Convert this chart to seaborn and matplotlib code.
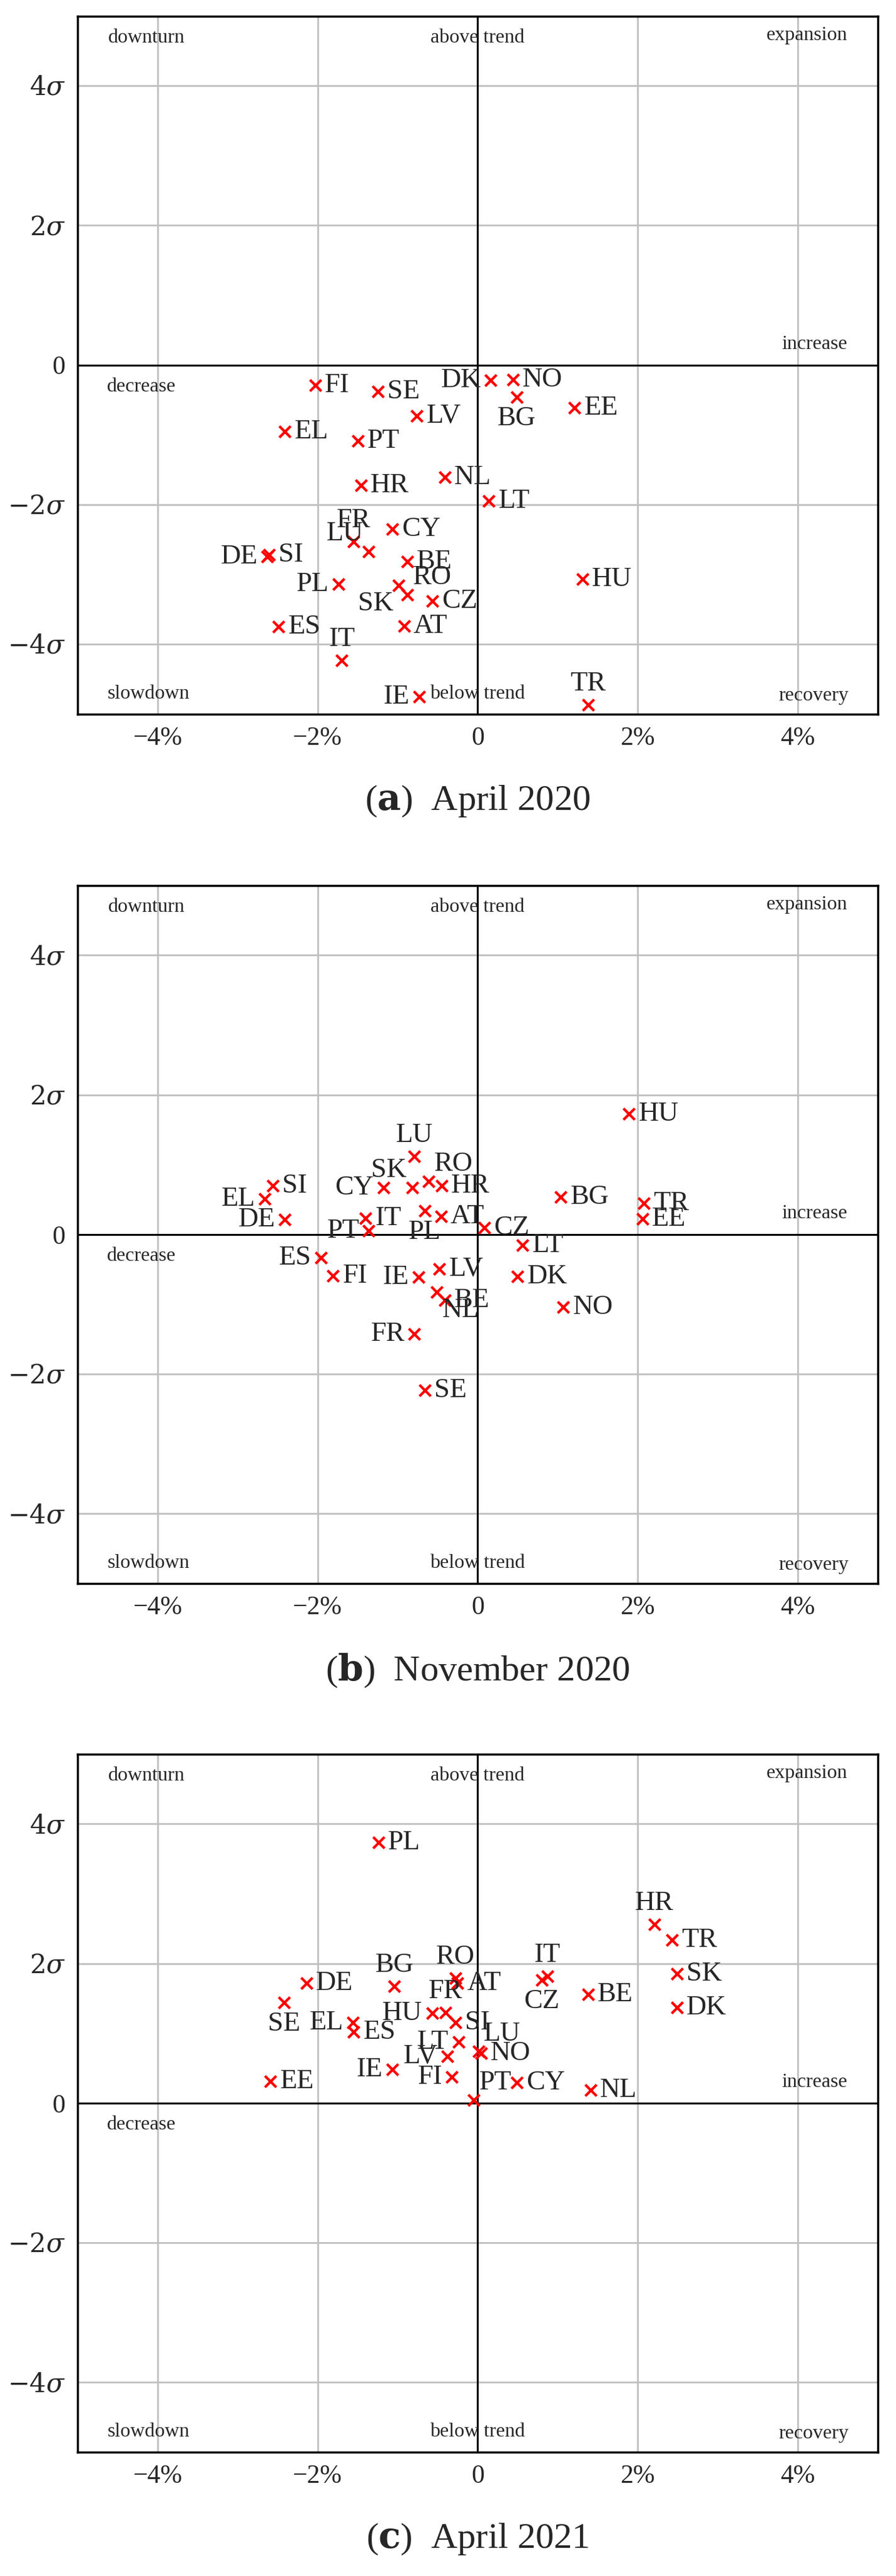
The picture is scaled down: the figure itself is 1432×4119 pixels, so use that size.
import numpy as np
import pandas as pd
import seaborn as sns
import matplotlib
matplotlib.use('Agg')
import matplotlib.pyplot as plt

# Panel (a) April 2020
a_cc = ['FI', 'SE', 'DK', 'NO', 'BG', 'EE', 'LV', 'EL', 'PT', 'HR', 'NL', 'LT', 'CY', 'FR',
        'LU', 'DE', 'SI', 'BE', 'HU', 'PL', 'SK', 'RO', 'CZ', 'AT', 'ES', 'IT', 'IE', 'TR']
a_x = [-2.03, -1.25, 0.16, 0.44, 0.49, 1.21, -0.76, -2.41, -1.50, -1.46, -0.41, 0.14, -1.07, -1.55,
       -1.36, -2.63, -2.61, -0.88, 1.31, -1.74, -0.99, -0.88, -0.57, -0.92, -2.49, -1.70, -0.73, 1.38]
a_y = [-0.29, -0.38, -0.22, -0.21, -0.46, -0.61, -0.73, -0.95, -1.09, -1.72, -1.61, -1.95, -2.35, -2.53,
       -2.67, -2.74, -2.72, -2.82, -3.07, -3.14, -3.16, -3.29, -3.38, -3.74, -3.75, -4.23, -4.75, -4.87]
a_pos = ['r', 'r', 'l', 'r', 'b', 'r', 'r', 'r', 'r', 'r', 'r', 'r', 'r', 'a',
         'al', 'l', 'r', 'r', 'r', 'l', 'bl', 'ar', 'r', 'r', 'r', 'a', 'l', 'a']

# Panel (b) November 2020
b_cc = ['HU', 'LU', 'RO', 'HR', 'SK', 'CY', 'SI', 'EL', 'DE', 'BG', 'TR', 'EE', 'PL', 'AT',
        'IT', 'PT', 'CZ', 'LT', 'ES', 'FI', 'IE', 'LV', 'BE', 'NL', 'FR', 'SE', 'DK', 'NO']
b_x = [1.89, -0.79, -0.61, -0.45, -0.82, -1.18, -2.56, -2.66, -2.41, 1.04, 2.08, 2.06, -0.66, -0.46,
       -1.40, -1.36, 0.08, 0.56, -1.96, -1.81, -0.74, -0.48, -0.41, -0.51, -0.79, -0.66, 0.50, 1.07]
b_y = [1.73, 1.12, 0.76, 0.70, 0.67, 0.67, 0.70, 0.51, 0.21, 0.54, 0.45, 0.22, 0.34, 0.26,
       0.23, 0.05, 0.10, -0.15, -0.33, -0.59, -0.61, -0.49, -0.94, -0.83, -1.43, -2.23, -0.60, -1.04]
b_pos = ['r', 'a', 'ar', 'r', 'al', 'l', 'r', 'l', 'l', 'r', 'r', 'r', 'b', 'r',
         'r', 'l', 'r', 'r', 'l', 'r', 'l', 'r', 'r', 'br', 'l', 'r', 'r', 'r']

# Panel (c) April 2021
c_cc = ['PL', 'HR', 'TR', 'SK', 'DK', 'IT', 'CZ', 'BE', 'RO', 'AT', 'BG', 'DE', 'SE', 'EL',
        'ES', 'HU', 'FR', 'SI', 'LT', 'LU', 'NO', 'LV', 'IE', 'EE', 'FI', 'PT', 'CY', 'NL']
c_x = [-1.24, 2.21, 2.43, 2.49, 2.49, 0.87, 0.80, 1.38, -0.28, -0.25, -1.04, -2.14, -2.42, -1.56,
       -1.55, -0.57, -0.40, -0.28, -0.24, 0.01, 0.04, -0.38, -1.07, -2.59, -0.32, -0.05, 0.49, 1.41]
c_y = [3.73, 2.56, 2.34, 1.85, 1.37, 1.82, 1.76, 1.56, 1.79, 1.72, 1.67, 1.72, 1.44, 1.15,
       1.02, 1.29, 1.30, 1.15, 0.88, 0.74, 0.71, 0.67, 0.48, 0.31, 0.37, 0.04, 0.29, 0.19]
c_pos = ['r', 'a', 'r', 'r', 'r', 'a', 'b', 'r', 'a', 'r', 'a', 'r', 'b', 'l',
         'r', 'l', 'a', 'r', 'l', 'ar', 'r', 'l', 'l', 'r', 'l', 'ar', 'r', 'r']

panels = [('a', 'April 2020', a_cc, a_x, a_y, a_pos),
          ('b', 'November 2020', b_cc, b_x, b_y, b_pos),
          ('c', 'April 2021', c_cc, c_x, c_y, c_pos)]

sns.set_style('white')
plt.rcParams['font.family'] = ['Liberation Serif', 'DejaVu Serif']
plt.rcParams['mathtext.fontset'] = 'dejavuserif'

offsets = {'r': ((11, 0), 'left', 'center'), 'l': ((-11, 0), 'right', 'center'),
           'a': ((0, 10), 'center', 'bottom'), 'b': ((0, -10), 'center', 'top'),
           'ar': ((6, 6), 'left', 'bottom'), 'al': ((-6, 6), 'right', 'bottom'),
           'br': ((6, -6), 'left', 'top'), 'bl': ((-6, -6), 'right', 'top')}

fig = plt.figure(figsize=(14.32, 41.19), dpi=100)
bottoms = [0.7228, 0.3853, 0.0481]
for (tag, title, cc, xs, ys, pos), bot in zip(panels, bottoms):
    ax = fig.add_axes([0.0866, bot, 0.893, 0.271])
    df = pd.DataFrame({'x': xs, 'y': ys, 'cc': cc})
    ax.grid(True, color='#c0c0c0', lw=2)
    ax.axhline(0, color='black', lw=2.2, zorder=2)
    ax.axvline(0, color='black', lw=2.2, zorder=2)
    sns.scatterplot(data=df, x='x', y='y', marker='x', color='red', s=170,
                    linewidth=3, ax=ax, zorder=3)
    for name, x, y, p in zip(cc, xs, ys, pos):
        off, ha, va = offsets[p]
        ax.annotate(name, (x, y), xytext=off, textcoords='offset points',
                    ha=ha, va=va, fontsize=32, zorder=4)
    ax.set_xlim(-5, 5)
    ax.set_ylim(-5, 5)
    ax.set_xticks([-4, -2, 0, 2, 4])
    ax.set_xticklabels(['−4%', '−2%', '0', '2%', '4%'])
    ax.set_yticks([-4, -2, 0, 2, 4])
    ax.set_yticklabels([r'$-4\sigma$', r'$-2\sigma$', '0', r'$2\sigma$', r'$4\sigma$'])
    ax.tick_params(labelsize=30, length=0, pad=14)
    ax.set_xlabel('')
    ax.set_ylabel('')
    for s in ax.spines.values():
        s.set_color('black')
        s.set_linewidth(2.5)
    corner = dict(fontsize=23, transform=ax.transAxes)
    ax.text(0.038, 0.969, 'downturn', ha='left', va='center', **corner)
    ax.text(0.5, 0.969, 'above trend', ha='center', va='center', **corner)
    ax.text(0.962, 0.972, 'expansion', ha='right', va='center', **corner)
    ax.text(0.962, 0.530, 'increase', ha='right', va='center', **corner)
    ax.text(0.037, 0.469, 'decrease', ha='left', va='center', **corner)
    ax.text(0.037, 0.029, 'slowdown', ha='left', va='center', **corner)
    ax.text(0.5, 0.029, 'below trend', ha='center', va='center', **corner)
    ax.text(0.964, 0.026, 'recovery', ha='right', va='center', **corner)
    ax.text(0.5, -0.125, '(' + r'$\mathbf{' + tag + '}$' + ')  ' + title,
            transform=ax.transAxes, ha='center', va='center', fontsize=42)

fig.savefig('out.png', dpi=100)
